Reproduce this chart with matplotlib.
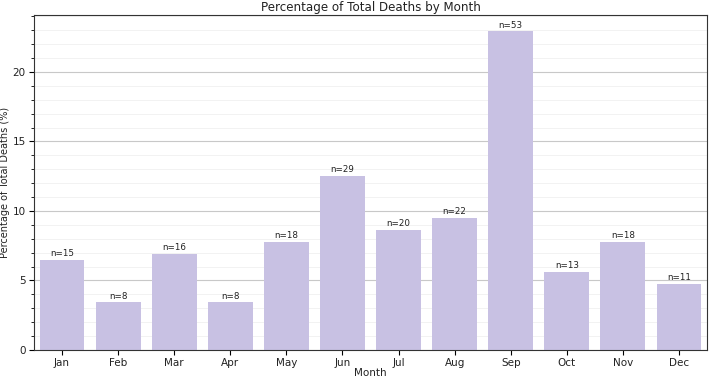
import numpy as np
import matplotlib.pyplot as plt
from matplotlib.ticker import MultipleLocator

# monthly death counts and share of total (%)
months = ['Jan', 'Feb', 'Mar', 'Apr', 'May', 'Jun', 'Jul', 'Aug', 'Sep', 'Oct', 'Nov', 'Dec']
counts = [15, 8, 16, 8, 18, 29, 20, 22, 53, 13, 18, 11]
pct = [6.49, 3.46, 6.93, 3.46, 7.79, 12.55, 8.66, 9.52, 22.94, 5.63, 7.79, 4.76]

fig = plt.figure(figsize=(7.09, 3.79), dpi=100)
ax = fig.add_axes([34 / 709, 29 / 379, 673 / 709, 335 / 379])

x = np.arange(len(months))
bars = ax.bar(x, pct, width=0.8, color='#c8c1e3', zorder=2)

for b, n in zip(bars, counts):
    ax.text(b.get_x() + b.get_width() / 2, b.get_height() + 0.1, f'n={n}',
            ha='center', va='bottom', fontsize=6.3, color='#222222', zorder=3)

ax.set_xticks(x)
ax.set_xticklabels(months, fontsize=7.5, color='#222222')
ax.set_xlim(-0.5, 11.5)
ax.set_ylim(0, 24.1)
ax.yaxis.set_major_locator(MultipleLocator(5))
ax.yaxis.set_minor_locator(MultipleLocator(1))
ax.tick_params(axis='x', pad=2)
ax.tick_params(axis='y', labelsize=7.5, labelcolor='#222222', pad=2.5)
ax.grid(axis='y', which='major', color='#c8c8c8', lw=0.8, zorder=0)
ax.grid(axis='y', which='minor', color='#f0f0f0', lw=0.6, zorder=0)
ax.set_axisbelow(True)
for s in ax.spines.values():
    s.set_color('#333333')

ax.set_xlabel('Month', fontsize=7.5, labelpad=0, color='#222222')
ax.set_ylabel('Percentage of Total Deaths (%)', fontsize=7, labelpad=2, color='#222222')
ax.set_title('Percentage of Total Deaths by Month', fontsize=8.6, pad=3, color='#222222')

plt.savefig('out.png', dpi=100)
